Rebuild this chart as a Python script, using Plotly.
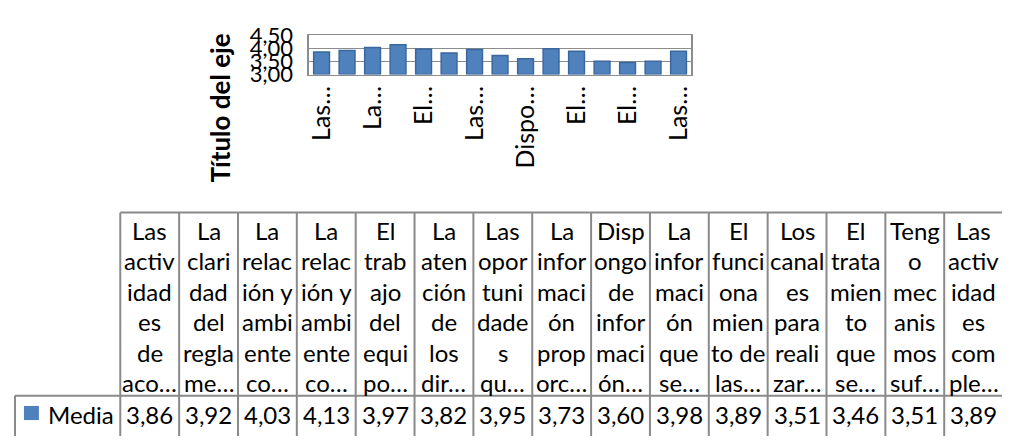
import plotly.graph_objects as go

# ---------------- data ----------------
series_name = "Media"
values = [3.86, 3.92, 4.03, 4.13, 3.97, 3.82, 3.95, 3.73, 3.60, 3.98, 3.89, 3.51, 3.46, 3.51, 3.89]
header_lines = [
    ["Las", "activ", "idad", "es", "de", "aco…"],
    ["La", "clari", "dad", "del", "regla", "me…"],
    ["La", "relac", "ión y", "ambi", "ente", "co…"],
    ["La", "relac", "ión y", "ambi", "ente", "co…"],
    ["El", "trab", "ajo", "del", "equi", "po…"],
    ["La", "aten", "ción", "de", "los", "dir…"],
    ["Las", "opor", "tuni", "dade", "s", "qu…"],
    ["La", "infor", "maci", "ón", "prop", "orc…"],
    ["Disp", "ongo", "de", "infor", "maci", "ón…"],
    ["La", "infor", "maci", "ón", "que", "se…"],
    ["El", "funci", "ona", "mien", "to de", "las…"],
    ["Los", "canal", "es", "para", "reali", "zar…"],
    ["El", "trata", "mien", "to", "que", "se…"],
    ["Teng", "o", "mec", "anis", "mos", "suf…"],
    ["Las", "activ", "idad", "es", "com", "ple…"],
]
axis_labels = ["Las…", "", "La…", "", "El…", "", "Las…", "", "Dispo…", "", "El…", "", "El…", "", "Las…"]
y_ticks = [3.0, 3.5, 4.0, 4.5]
axis_title = "Título del eje"

# ---------------- styling ----------------
W, H = 1010, 441
OFF = 8  # default page margin of the html body
FONT = "Lato"
BLUE = "#4F81BD"
BLUE_EDGE = "#3A679E"
GRID = "#8C8C8C"
TABLE_LINE = "#8A8A8A"


def fmt(v):
    return f"{v:.2f}".replace(".", ",")


def px(x):
    return (x - OFF) / W


def py(y):
    return 1 - (y - OFF) / H


n = len(values)
cats = list(range(n))

fig = go.Figure()
fig.add_trace(go.Bar(
    x=cats, y=[v - y_ticks[0] for v in values], base=y_ticks[0], name=series_name,
    width=0.62, marker=dict(color=BLUE, line=dict(color=BLUE_EDGE, width=1.5)),
    hoverinfo="skip",
))

fig.update_layout(
    width=W, height=H,
    margin=dict(l=0, r=0, t=0, b=0),
    paper_bgcolor="white", plot_bgcolor="white",
    showlegend=False,
    separators=",.",
    font=dict(family=FONT, color="black"),
    xaxis=dict(domain=[px(306), px(690)], range=[-0.5, n - 0.5],
               tickmode="array", tickvals=cats, ticktext=axis_labels, tickangle=-90,
               tickfont=dict(family=FONT, size=25, color="black"),
               showgrid=False, showline=True, linecolor=GRID, linewidth=1.5, mirror=True,
               ticks="", zeroline=False, fixedrange=True, ticklabeloverflow="allow"),
    yaxis=dict(domain=[py(64), py(22)], range=[y_ticks[0], y_ticks[-1]],
               tickmode="array", tickvals=y_ticks, ticktext=[fmt(t) for t in y_ticks],
               tickfont=dict(family=FONT, size=22, color="black"),
               showgrid=True, gridcolor=GRID, gridwidth=1.2,
               showline=True, linecolor=GRID, linewidth=1.5, mirror=True,
               ticks="", ticklabelstandoff=10, zeroline=False, fixedrange=True,
               ticklabeloverflow="allow"),
)

# axis title
fig.add_annotation(x=px(217), y=py(100), xref="paper", yref="paper", text=f"<b>{axis_title}</b>",
                   textangle=-90, showarrow=False, xanchor="center", yanchor="middle",
                   font=dict(family=FONT, size=26, color="black"))

# ---------------- data table (drawn from the arrays) ----------------
tx0, tx1 = 116.7, 1003.0
cw = (tx1 - tx0) / n
top, mid, bot = 211.0, 406.0, 449.0
line = dict(color=TABLE_LINE, width=2)
shapes = []
shapes.append(dict(type="line", xref="paper", yref="paper", x0=px(tx0), x1=px(tx1), y0=py(top), y1=py(top), line=line))
shapes.append(dict(type="line", xref="paper", yref="paper", x0=px(11), x1=px(tx1), y0=py(mid), y1=py(mid), line=line))
shapes.append(dict(type="line", xref="paper", yref="paper", x0=px(11), x1=px(11), y0=py(mid), y1=py(bot), line=line))
for k in range(n + 1):
    xk = tx0 + k * cw
    shapes.append(dict(type="line", xref="paper", yref="paper", x0=px(xk), x1=px(xk), y0=py(top), y1=py(bot), line=line))
# legend key
shapes.append(dict(type="rect", xref="paper", yref="paper", x0=px(20), x1=px(35), y0=py(432), y1=py(417),
                   fillcolor=BLUE, line=dict(width=0)))
fig.update_layout(shapes=shapes)

line_y0, pitch = 230.0, 32.5
for k, lines in enumerate(header_lines):
    xc = tx0 + (k + 0.5) * cw
    for j, t in enumerate(lines):
        fig.add_annotation(x=px(xc), y=py(line_y0 + j * pitch), xref="paper", yref="paper", text=t,
                           showarrow=False, xanchor="center", yanchor="middle",
                           font=dict(family=FONT, size=24, color="black"))
    fig.add_annotation(x=px(xc), y=py(426), xref="paper", yref="paper", text=fmt(values[k]),
                       showarrow=False, xanchor="center", yanchor="middle",
                       font=dict(family=FONT, size=24, color="black"))
fig.add_annotation(x=px(42), y=py(426), xref="paper", yref="paper", text=series_name,
                   showarrow=False, xanchor="left", yanchor="middle",
                   font=dict(family=FONT, size=24, color="black"))

fig.write_html("out.html", config=dict(displayModeBar=False, staticPlot=True))
